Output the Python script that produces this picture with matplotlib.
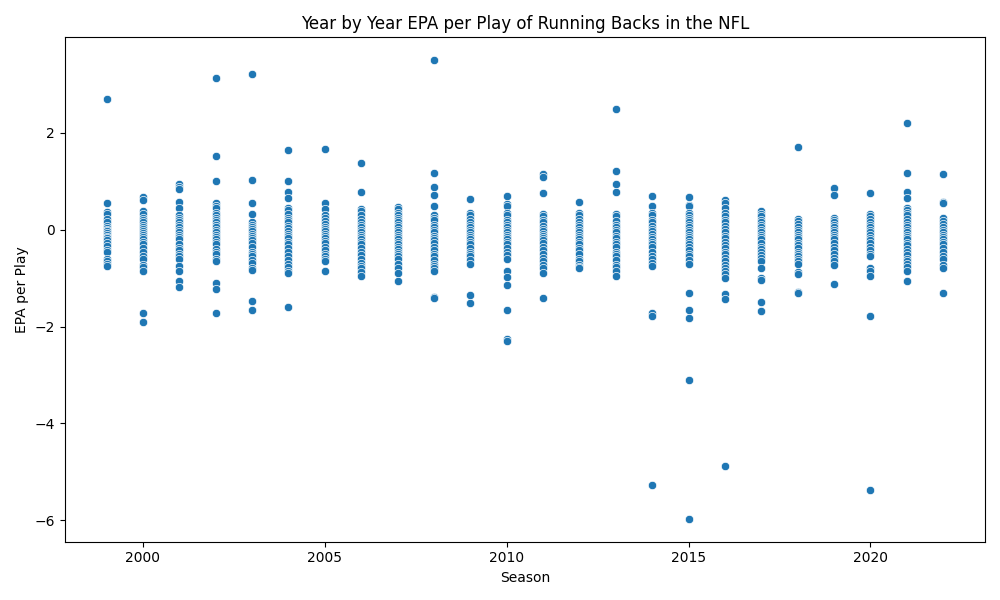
import pandas as pd
import seaborn as sns
import matplotlib.pyplot as plt

# EPA per play of each running back, grouped by season
seasons = list(range(1999, 2023))
epa_by_season = [
    [2.70, 0.55, 0.36, 0.32, 0.22, 0.15, 0.08, 0.04, 0.0, -0.03, -0.07, -0.1, -0.14, -0.18, -0.22, -0.27, -0.33, -0.42, -0.46, -0.6, -0.65, -0.7, -0.75],
    [0.68, 0.62, 0.38, 0.33, 0.25, 0.2, 0.15, 0.1, 0.05, 0.02, -0.02, -0.06, -0.1, -0.15, -0.2, -0.25, -0.3, -0.38, -0.45, -0.55, -0.6, -0.72, -0.78, -0.85, -1.72, -1.9],
    [0.95, 0.88, 0.85, 0.58, 0.45, 0.3, 0.25, 0.2, 0.15, 0.1, 0.05, 0.0, -0.05, -0.1, -0.15, -0.2, -0.3, -0.38, -0.42, -0.5, -0.55, -0.6, -0.75, -0.85, -1.05, -1.18],
    [3.13, 1.53, 1.0, 0.55, 0.5, 0.45, 0.35, 0.3, 0.25, 0.2, 0.15, 0.1, 0.05, 0.0, -0.05, -0.1, -0.15, -0.2, -0.25, -0.3, -0.4, -0.45, -0.5, -0.6, -0.65, -1.1, -1.22, -1.73],
    [3.22, 1.03, 0.55, 0.33, 0.15, 0.1, 0.05, 0.02, -0.02, -0.08, -0.12, -0.18, -0.22, -0.28, -0.35, -0.45, -0.5, -0.55, -0.62, -0.68, -0.8, -0.83, -1.47, -1.65],
    [1.65, 1.01, 0.78, 0.66, 0.45, 0.4, 0.32, 0.25, 0.2, 0.15, 0.08, 0.04, -0.02, -0.08, -0.12, -0.18, -0.25, -0.3, -0.38, -0.45, -0.55, -0.62, -0.7, -0.78, -0.85, -0.9, -1.6],
    [1.67, 0.55, 0.42, 0.3, 0.25, 0.18, 0.12, 0.06, 0.02, -0.03, -0.08, -0.13, -0.18, -0.23, -0.28, -0.35, -0.42, -0.5, -0.55, -0.6, -0.65, -0.85],
    [1.38, 0.78, 0.42, 0.38, 0.3, 0.22, 0.16, 0.1, 0.05, 0.0, -0.05, -0.1, -0.15, -0.2, -0.25, -0.3, -0.38, -0.45, -0.52, -0.6, -0.68, -0.75, -0.8, -0.88, -0.95],
    [0.47, 0.42, 0.35, 0.3, 0.25, 0.2, 0.15, 0.1, 0.05, 0.0, -0.05, -0.1, -0.15, -0.2, -0.25, -0.3, -0.35, -0.4, -0.45, -0.5, -0.55, -0.6, -0.7, -0.8, -0.9, -1.05],
    [3.5, 1.18, 0.88, 0.72, 0.48, 0.3, 0.25, 0.2, 0.1, 0.05, 0.0, -0.05, -0.12, -0.18, -0.22, -0.28, -0.35, -0.42, -0.5, -0.55, -0.62, -0.7, -0.75, -0.8, -0.85, -1.38, -1.42],
    [0.63, 0.35, 0.3, 0.22, 0.15, 0.1, 0.05, 0.0, -0.05, -0.1, -0.15, -0.2, -0.25, -0.3, -0.38, -0.45, -0.5, -0.55, -0.62, -0.7, -1.35, -1.52],
    [0.7, 0.53, 0.48, 0.35, 0.3, 0.2, 0.15, 0.1, 0.05, 0.0, -0.05, -0.1, -0.15, -0.2, -0.25, -0.3, -0.38, -0.45, -0.52, -0.6, -0.85, -0.97, -1.15, -1.65, -2.25, -2.3],
    [1.15, 1.08, 0.75, 0.33, 0.28, 0.2, 0.15, 0.08, 0.02, -0.03, -0.08, -0.12, -0.18, -0.22, -0.28, -0.35, -0.42, -0.5, -0.58, -0.65, -0.72, -0.8, -0.9, -1.4],
    [0.58, 0.35, 0.3, 0.22, 0.15, 0.1, 0.05, 0.0, -0.05, -0.1, -0.15, -0.2, -0.25, -0.3, -0.38, -0.42, -0.5, -0.6, -0.65, -0.72, -0.78, -0.8],
    [2.5, 1.22, 0.95, 0.77, 0.32, 0.28, 0.18, 0.1, 0.05, 0.0, -0.05, -0.12, -0.18, -0.25, -0.3, -0.35, -0.45, -0.5, -0.55, -0.62, -0.72, -0.78, -0.85, -0.95],
    [0.7, 0.48, 0.35, 0.3, 0.2, 0.15, 0.08, 0.02, -0.03, -0.08, -0.15, -0.2, -0.25, -0.3, -0.35, -0.45, -0.55, -0.6, -0.68, -0.75, -1.73, -1.78, -5.27],
    [0.68, 0.52, 0.48, 0.35, 0.3, 0.25, 0.2, 0.15, 0.1, 0.05, 0.0, -0.05, -0.1, -0.15, -0.2, -0.25, -0.3, -0.35, -0.42, -0.5, -0.55, -0.62, -0.7, -1.3, -1.65, -1.82, -3.1, -5.97],
    [0.62, 0.55, 0.45, 0.35, 0.28, 0.2, 0.15, 0.08, 0.02, -0.05, -0.12, -0.18, -0.25, -0.32, -0.38, -0.45, -0.5, -0.58, -0.65, -0.72, -0.8, -0.85, -0.92, -1.0, -1.33, -1.43, -4.88],
    [0.38, 0.33, 0.28, 0.2, 0.15, 0.1, 0.05, 0.0, -0.05, -0.1, -0.15, -0.2, -0.28, -0.35, -0.4, -0.45, -0.52, -0.58, -0.65, -0.8, -1.0, -1.03, -1.5, -1.68],
    [1.7, 0.22, 0.18, 0.12, 0.05, 0.0, -0.05, -0.1, -0.15, -0.2, -0.28, -0.32, -0.38, -0.45, -0.5, -0.55, -0.6, -0.65, -0.7, -0.88, -0.92, -1.28, -1.3],
    [0.87, 0.72, 0.25, 0.2, 0.15, 0.1, 0.05, 0.0, -0.05, -0.1, -0.15, -0.2, -0.28, -0.35, -0.42, -0.5, -0.58, -0.65, -0.72, -1.12],
    [0.75, 0.32, 0.28, 0.22, 0.15, 0.1, 0.05, 0.0, -0.05, -0.1, -0.18, -0.22, -0.28, -0.35, -0.42, -0.5, -0.55, -0.8, -0.85, -0.95, -1.78, -5.37],
    [2.2, 1.18, 0.77, 0.65, 0.45, 0.4, 0.35, 0.3, 0.22, 0.15, 0.1, 0.05, 0.0, -0.05, -0.1, -0.15, -0.2, -0.28, -0.32, -0.4, -0.45, -0.52, -0.6, -0.65, -0.7, -0.78, -0.85, -1.05],
    [1.15, 0.58, 0.55, 0.25, 0.18, 0.12, 0.05, 0.0, -0.05, -0.1, -0.15, -0.2, -0.25, -0.3, -0.38, -0.45, -0.55, -0.6, -0.72, -0.8, -1.3],
]

rows = [(s, v) for s, vals in zip(seasons, epa_by_season) for v in vals]
df = pd.DataFrame(rows, columns=['season', 'epa_per_play'])

fig, ax = plt.subplots(figsize=(10, 6))
sns.scatterplot(data=df, x='season', y='epa_per_play', ax=ax)
ax.set_title('Year by Year EPA per Play of Running Backs in the NFL')
ax.set_xlabel('Season')
ax.set_ylabel('EPA per Play')
plt.tight_layout()
plt.savefig('out.png', dpi=100)
